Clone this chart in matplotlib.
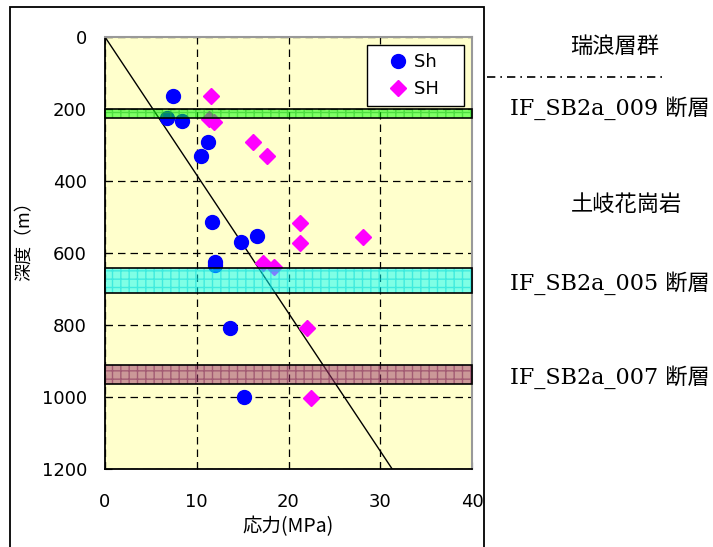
import matplotlib
matplotlib.use("Agg")
import matplotlib.pyplot as plt
from matplotlib.patches import Rectangle
from matplotlib.lines import Line2D

plt.rcParams['font.family'] = ['DejaVu Sans', 'Noto Sans CJK JP']

# measured data (stress in MPa, depth in m)
sh_stress = [7.4, 6.8, 8.4, 11.2, 10.5, 11.7, 16.6, 14.8, 12.0, 12.0, 13.6, 15.1]
sh_depth = [165, 226, 232, 293, 330, 515, 553, 569, 626, 633, 807, 1001]
SH_stress = [11.5, 11.3, 11.9, 16.1, 17.7, 21.2, 21.2, 28.1, 17.2, 18.4, 22.0, 22.4]
SH_depth = [164, 228, 235, 293, 331, 516, 571, 556, 629, 640, 809, 1002]

# reference gradient line
line_stress = [0, 31.3]
line_depth = [0, 1200]

# fault zones: (top, bottom, fill colour, hatch colour)
bands = [
    (200, 224, '#00ff00', '#1fbf1f'),
    (641, 711, '#00ffff', '#00d8d8'),
    (911, 965, '#993366', '#7a1f4f'),
]

# labels on the right side
side_labels = ['瑞浪層群', 'IF_SB2a_009 断層', '土岐花崗岩', 'IF_SB2a_005 断層', 'IF_SB2a_007 断層']
side_x = [615, 610, 627, 610, 610]
side_y = [47, 108, 205, 283, 377]

W, H = 713, 547
fig = plt.figure(figsize=(W / 100, H / 100), dpi=100)
ax = fig.add_axes([105 / W, 1 - 469 / H, 367 / W, 432 / H])
ax.set_facecolor('#ffffcc')

ax.set_xlim(0, 40)
ax.set_ylim(1200, 0)
ax.set_xticks([0, 10, 20, 30, 40])
ax.set_yticks([0, 200, 400, 600, 800, 1000, 1200])
ax.tick_params(direction='in', length=5, labelsize=13, top=False, right=False)
ax.tick_params(axis='y', pad=13)
ax.tick_params(axis='x', pad=17)

for s in ['left', 'bottom']:
    ax.spines[s].set_color('black')
    ax.spines[s].set_linewidth(1.3)
for s in ['top', 'right']:
    ax.spines[s].set_color('#999999')
    ax.spines[s].set_linewidth(1.5)

ax.grid(True, color='black', linestyle=(0, (6, 4)), linewidth=0.9, zorder=1)
ax.set_axisbelow(True)

ax.plot(line_stress, line_depth, color='black', linewidth=1, zorder=2)
# trailing spaces widen the legend box like the original
ax.plot(sh_stress, sh_depth, 'o', color='#0000ff', markersize=10, label='Sh   ', zorder=3)
ax.plot(SH_stress, SH_depth, 'D', color='#ff00ff', markersize=8, label='SH   ', zorder=3)

for top, bot, fc, hc in bands:
    ax.add_patch(Rectangle((0, top), 40, bot - top, facecolor=fc, alpha=0.5,
                           edgecolor=hc, hatch='++', linewidth=0, zorder=4))
    ax.add_patch(Rectangle((0, top), 40, bot - top, facecolor='none',
                           edgecolor='black', linewidth=1.2, zorder=5, clip_on=False))

leg = ax.legend(loc='upper right', fontsize=13, frameon=True, fancybox=False,
                edgecolor='black', framealpha=1, borderaxespad=0.45,
                handlelength=2.6, handletextpad=-0.45, labelspacing=0.5, borderpad=0.45)
leg.get_frame().set_linewidth(1.0)
leg.set_zorder(6)

ax.set_xlabel('応力(MPa)', fontsize=14, labelpad=4,
              family=['Noto Sans CJK JP', 'DejaVu Sans'])
ax.set_ylabel('深度（m）', fontsize=13,
              family=['Noto Sans CJK JP', 'DejaVu Sans'])
ax.yaxis.set_label_coords(-(105 - 34) / 367, (469 - 237) / 432)

# outer frame (open at bottom) and separator lines
fig.add_artist(Rectangle((10 / W, -0.05), 474 / W, 1.05 - 7 / H, transform=fig.transFigure,
                         facecolor='none', edgecolor='black', linewidth=1.3))
fig.add_artist(Line2D([487 / W, 663 / W], [1 - 77 / H, 1 - 77 / H], transform=fig.transFigure,
                      color='black', linewidth=1.2, linestyle=(0, (5, 3, 1, 3))))

for txt, x, y in zip(side_labels, side_x, side_y):
    fig.text(x / W, 1 - y / H, txt, ha='center', va='center', fontsize=16,
             family=['DejaVu Serif', 'Noto Sans CJK JP'])

fig.savefig('out.png', dpi=100)
